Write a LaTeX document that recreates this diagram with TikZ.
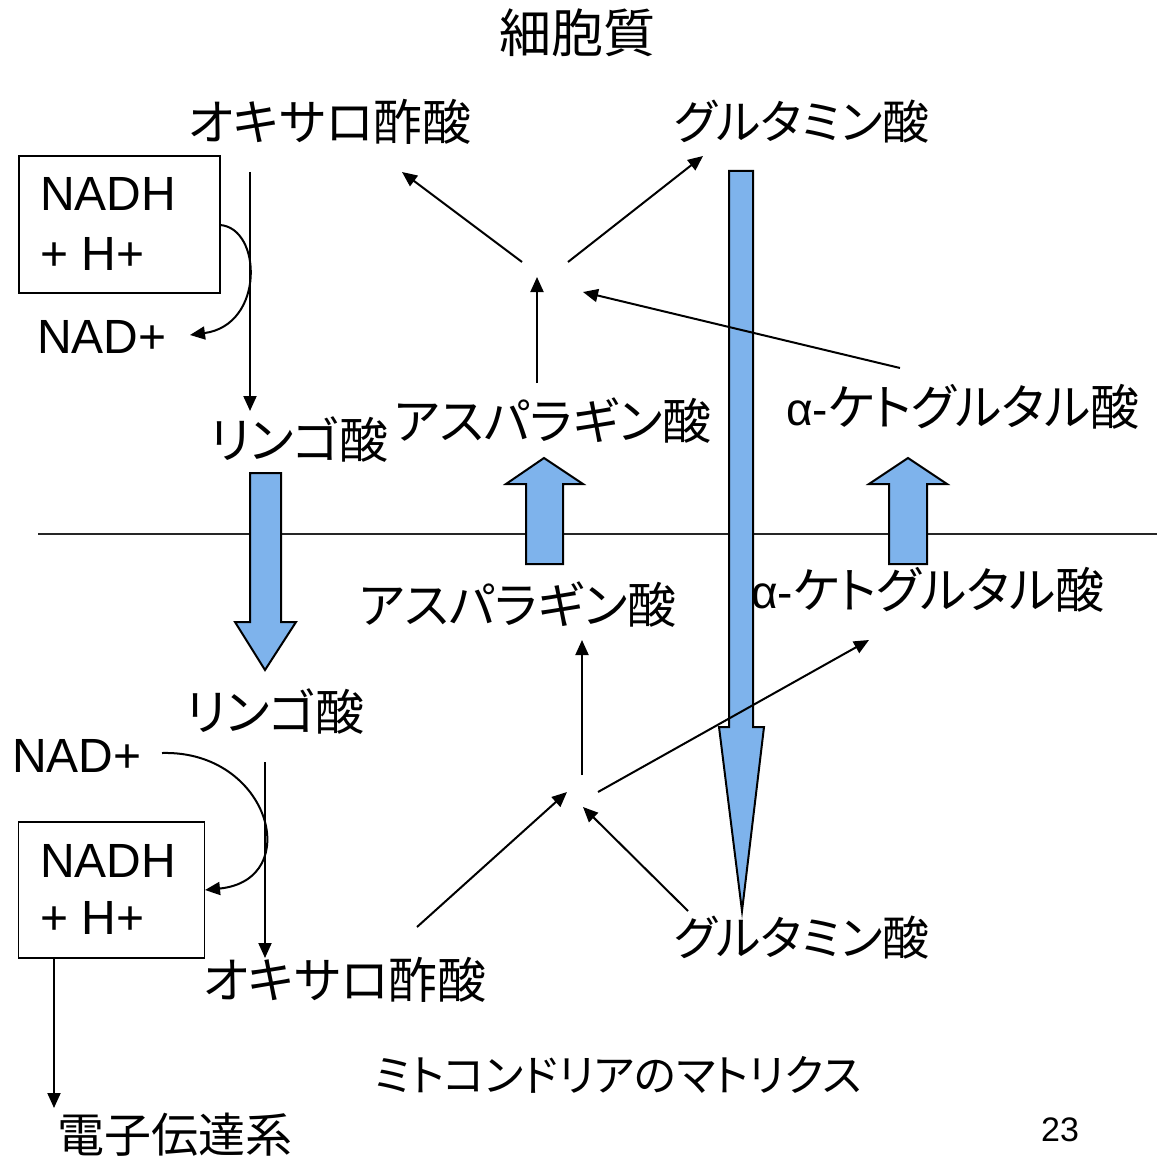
\documentclass[tikz,border=0pt]{standalone}
\usepackage{fontspec}
\setmainfont{Liberation Sans}
\newfontfamily\cjk[RawFeature=+palt]{Noto Sans CJK JP}
\usetikzlibrary{arrows.meta}
\definecolor{membblue}{RGB}{126,179,236}
\tikzset{
  lbl/.style={inner sep=0pt, font=\cjk\fontsize{49}{55}\selectfont},
  latin/.style={inner sep=0pt, font=\fontsize{48}{60}\selectfont, align=left},
  conn/.style={line width=2pt, -{Triangle[length=15pt,width=13pt]}},
  plainline/.style={line width=2pt},
  bigarrow/.style={fill=membblue, draw=black, line width=2pt, line join=miter},
  nbox/.style={draw=black, line width=1.6pt, inner sep=0pt, fill=none},
}
\begin{document}
\begin{tikzpicture}[x=1pt,y=-1pt]
\useasboundingbox (0,0) rectangle (1157,1158);

% membrane
\coordinate (memL) at (38,534);
\coordinate (memR) at (1157,534);
\draw[line width=1.3pt, black!85] (memL) -- (memR);

% texts
\node[lbl, font=\cjk\fontsize{52}{60}\selectfont] (title) at (577,33) {細胞質};
\node[lbl] (oxaTop) at (330,122) {オキサロ酢酸};
\node[lbl, font=\cjk\fontsize{47}{55}\selectfont] (gluTop) at (802,122) {グルタミン酸};
\node[lbl] (malTop) at (299,440) {リンゴ酸};
\node[lbl] (aspTop) at (553,421) {アスパラギン酸};
\node[lbl, font=\fontsize{46}{55}\selectfont] (akgTop) at (963,407) {α-{\cjk\fontsize{49}{55}\selectfont ケトグルタル酸}};
\node[lbl] (aspBot) at (518,605) {アスパラギン酸};
\node[lbl, font=\fontsize{46}{55}\selectfont] (akgBot) at (928,590) {α-{\cjk\fontsize{49}{55}\selectfont ケトグルタル酸}};
\node[lbl] (malBot) at (275,712) {リンゴ酸};
\node[lbl] (oxaBot) at (345,980) {オキサロ酢酸};
\node[lbl, font=\cjk\fontsize{47}{55}\selectfont] (gluBot) at (802,938) {グルタミン酸};
\node[lbl, font=\cjk\fontsize{47}{55}\selectfont] (etc) at (175,1135) {電子伝達系};
\node[lbl, font=\cjk\fontsize{43.5}{48}\selectfont] (matrix) at (618,1075) {ミトコンドリアのマトリクス};
\node[inner sep=0pt, font=\fontsize{34}{40}\selectfont] (page) at (1060,1130) {23};

\node[latin] (nadTop) at (102,337) {NAD+};
\node[latin] (nadBot) at (77,756) {NAD+};

% NADH boxes
\node[nbox, minimum width=201pt, minimum height=137pt] (boxTop) at (119.5,224.5) {};
\node[latin, anchor=north west] (nadhTop) at (40,177) {NADH\\+ H+};
\node[nbox, minimum width=186pt, minimum height=136pt] (boxBot) at (111.5,890) {};
\node[latin, anchor=north west, font=\fontsize{48}{57}\selectfont] (nadhBot) at (40,844) {NADH\\+ H+};

% big blue arrows
\draw[bigarrow] (729,171) -- (753,171) -- (753,727) -- (764,727) -- (742,911) -- (719,727) -- (729,727) -- cycle;
\draw[bigarrow] (250,473) -- (281,473) -- (281,622) -- (296,622) -- (265,670) -- (235,622) -- (250,622) -- cycle;
\draw[bigarrow] (526,564) -- (563,564) -- (563,484) -- (583,484) -- (544,458) -- (506,484) -- (526,484) -- cycle;
\draw[bigarrow] (889,564) -- (927,564) -- (927,484) -- (947,484) -- (908,458) -- (869,484) -- (889,484) -- cycle;

% upper (cytosol) reactions
\coordinate (uA1) at (250,172);  \coordinate (uA2) at (250,411);
\draw[conn] (uA1) -- (uA2);
\coordinate (uC0) at (220,225);  \coordinate (uC1) at (190,335);
\draw[conn] (uC0) .. controls (262,228) and (265,325) .. (uC1);

\coordinate (jTl) at (522,262); \coordinate (tOxa) at (402,172);
\coordinate (jTr) at (568,262); \coordinate (tGlu) at (703,156);
\coordinate (sAsp) at (537,383); \coordinate (jTb) at (537,277);
\coordinate (sAkg) at (900,368); \coordinate (jTe) at (583,292);
\draw[conn] (jTl) -- (tOxa);
\draw[conn] (jTr) -- (tGlu);
\draw[conn] (sAsp) -- (jTb);
\draw[conn] (sAkg) -- (jTe);

% lower (matrix) reactions
\coordinate (lA1) at (265,762);  \coordinate (lA2) at (265,958);
\draw[conn] (lA1) -- (lA2);
\coordinate (lC0) at (162,753);  \coordinate (lC1) at (205,890);
\draw[conn] (lC0) .. controls (270,750) and (305,880) .. (lC1);
\coordinate (eS) at (54,958);  \coordinate (eT) at (54,1108);
\draw[conn] (eS) -- (eT);

\coordinate (jBt) at (582,775); \coordinate (tAsp) at (582,640);
\coordinate (jBr) at (598,792); \coordinate (tAkg) at (869,640);
\coordinate (sOxa) at (417,927); \coordinate (jBl) at (567,792);
\coordinate (sGlu) at (688,911); \coordinate (jBe) at (583,807);
\draw[conn] (jBt) -- (tAsp);
\draw[conn] (jBr) -- (tAkg);
\draw[conn] (sOxa) -- (jBl);
\draw[conn] (sGlu) -- (jBe);
\end{tikzpicture}
\end{document}
